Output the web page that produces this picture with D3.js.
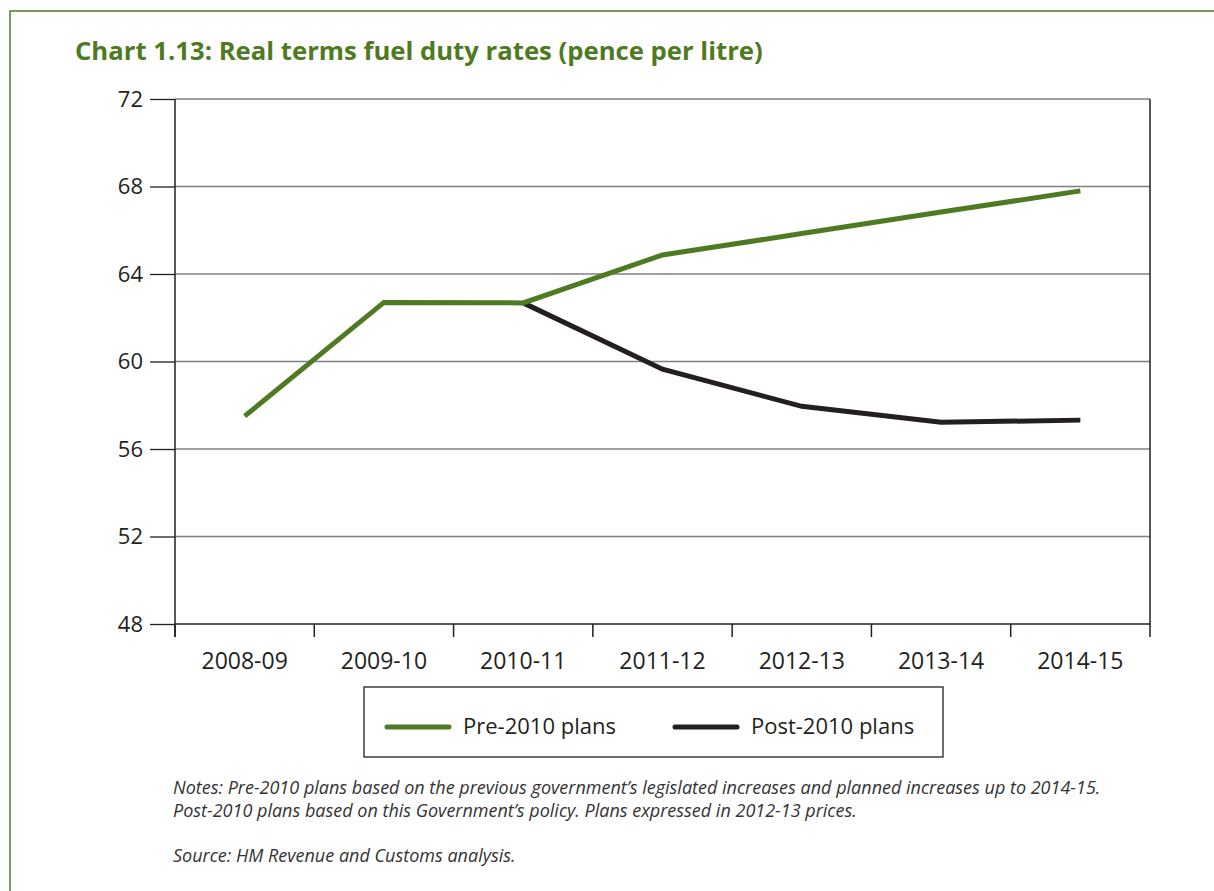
<!DOCTYPE html>
<html lang="en">
<head>
    <meta charset="UTF-8">
    <title>Chart 1.13: Real terms fuel duty rates</title>
    <script src="https://cdn.jsdelivr.net/npm/d3@7"></script>
    <style>
        body { margin: 0; background: #fff; }
        svg text { font-family: "Open Sans", "Noto Sans", sans-serif; fill: #231f20; }
    </style>
</head>
<body>
    <script type="text/javascript">

        var w = 1214;
        var h = 891;

        // data
        var years = ["2008-09", "2009-10", "2010-11", "2011-12", "2012-13", "2013-14", "2014-15"];
        var pre2010 = [57.5, 62.7, 62.68, 64.87, 65.85, 66.83, 67.8];
        var post2010 = [null, null, 62.68, 59.65, 57.95, 57.22, 57.32];
        var yTicks = [48, 52, 56, 60, 64, 68, 72];
        var seriesNames = ["Pre-2010 plans", "Post-2010 plans"];

        var green = "#4e7a22";
        var dark = "#231f20";

        var plot = {left: 175, right: 1150, top: 99, bottom: 624};

        var svg = d3.select("body")
                    .append("svg")
                    .attr("width", w)
                    .attr("height", h);

        // outer frame (only top and left edge visible)
        svg.append("rect")
            .attr("x", 10).attr("y", 11)
            .attr("width", w + 20).attr("height", h + 20)
            .attr("fill", "none")
            .attr("stroke", green)
            .attr("stroke-width", 1.5);

        svg.append("text")
            .attr("x", 75).attr("y", 60)
            .attr("font-size", 25.7)
            .attr("font-weight", "bold")
            .style("fill", green)
            .text("Chart 1.13: Real terms fuel duty rates (pence per litre)");

        //scales
        var xScale = d3.scaleBand()
                        .domain(years)
                        .range([plot.left, plot.right])
                        .padding(0);

        var yScale = d3.scaleLinear()
                        .domain([48, 72])
                        .range([plot.bottom, plot.top]);

        // gridlines
        svg.append("g")
            .selectAll("line")
            .data(yTicks.slice(1))
            .enter()
            .append("line")
            .attr("x1", plot.left)
            .attr("x2", plot.right)
            .attr("y1", function(d) { return yScale(d); })
            .attr("y2", function(d) { return yScale(d); })
            .attr("stroke", "#808080")
            .attr("stroke-width", 1.3);

        // right border
        svg.append("line")
            .attr("x1", plot.right).attr("x2", plot.right)
            .attr("y1", plot.top).attr("y2", plot.bottom)
            .attr("stroke", dark)
            .attr("stroke-width", 1.5);

        // y axis
        var yAxis = d3.axisLeft(yScale)
                        .tickValues(yTicks)
                        .tickSize(25)
                        .tickPadding(7);

        var gy = svg.append("g")
            .attr("transform", "translate(" + plot.left + ",0)")
            .call(yAxis);
        gy.select(".domain").remove();
        gy.selectAll(".tick line").attr("stroke", dark).attr("stroke-width", 1.3);
        gy.selectAll("text")
            .attr("font-size", 22)
            .style("font-family", "\"Open Sans\", sans-serif")
            .attr("fill", dark);

        svg.append("line")
            .attr("x1", plot.left).attr("x2", plot.left)
            .attr("y1", plot.top).attr("y2", plot.bottom + 13)
            .attr("stroke", dark)
            .attr("stroke-width", 1.5);

        // x axis
        svg.append("line")
            .attr("x1", plot.left).attr("x2", plot.right)
            .attr("y1", plot.bottom).attr("y2", plot.bottom)
            .attr("stroke", dark)
            .attr("stroke-width", 1.5);

        var tickX = years.map(function(d) { return xScale(d); }).concat([plot.right]);
        svg.append("g")
            .selectAll("line")
            .data(tickX)
            .enter()
            .append("line")
            .attr("x1", function(d) { return d; })
            .attr("x2", function(d) { return d; })
            .attr("y1", plot.bottom)
            .attr("y2", plot.bottom + 13)
            .attr("stroke", dark)
            .attr("stroke-width", 1.5);

        svg.append("g")
            .selectAll("text")
            .data(years)
            .enter()
            .append("text")
            .attr("x", function(d) { return xScale(d) + xScale.bandwidth() / 2; })
            .attr("y", plot.bottom + 45)
            .attr("text-anchor", "middle")
            .attr("font-size", 23)
            .text(function(d) { return d; });

        // lines
        var line = d3.line()
                    .defined(function(d) { return d != null; })
                    .x(function(d, i) { return xScale(years[i]) + xScale.bandwidth() / 2; })
                    .y(function(d) { return yScale(d); });

        svg.append("path")
            .datum(post2010)
            .attr("d", line)
            .attr("fill", "none")
            .attr("stroke", dark)
            .attr("stroke-width", 5);

        svg.append("path")
            .datum(pre2010)
            .attr("d", line)
            .attr("fill", "none")
            .attr("stroke", green)
            .attr("stroke-width", 5);

        // legend
        var legend = svg.append("g");
        legend.append("rect")
            .attr("x", 364).attr("y", 687)
            .attr("width", 579).attr("height", 70)
            .attr("fill", "none")
            .attr("stroke", dark)
            .attr("stroke-width", 1.3);

        var legX = [387, 675];
        var legColors = [green, dark];
        seriesNames.forEach(function(name, i) {
            legend.append("line")
                .attr("x1", legX[i]).attr("x2", legX[i] + 62)
                .attr("y1", 727).attr("y2", 727)
                .attr("stroke", legColors[i])
                .attr("stroke-width", 5)
                .attr("stroke-linecap", "round");
            legend.append("text")
                .attr("x", legX[i] + 76)
                .attr("y", 734)
                .attr("font-size", 22)
                .text(name);
        });

        // notes
        var notes = [
            "Notes: Pre-2010 plans based on the previous government\u2019s legislated increases and planned increases up to 2014-15.",
            "Post-2010 plans based on this Government\u2019s policy. Plans expressed in 2012-13 prices.",
            "",
            "Source: HM Revenue and Customs analysis."
        ];
        svg.append("g")
            .selectAll("text")
            .data(notes)
            .enter()
            .append("text")
            .attr("x", 173)
            .attr("y", function(d, i) { return 794 + i * 22.5; })
            .attr("font-size", 18)
            .attr("font-style", "italic")
            .style("fill", "#333")
            .text(function(d) { return d; });

    </script>
</body>
</html>
